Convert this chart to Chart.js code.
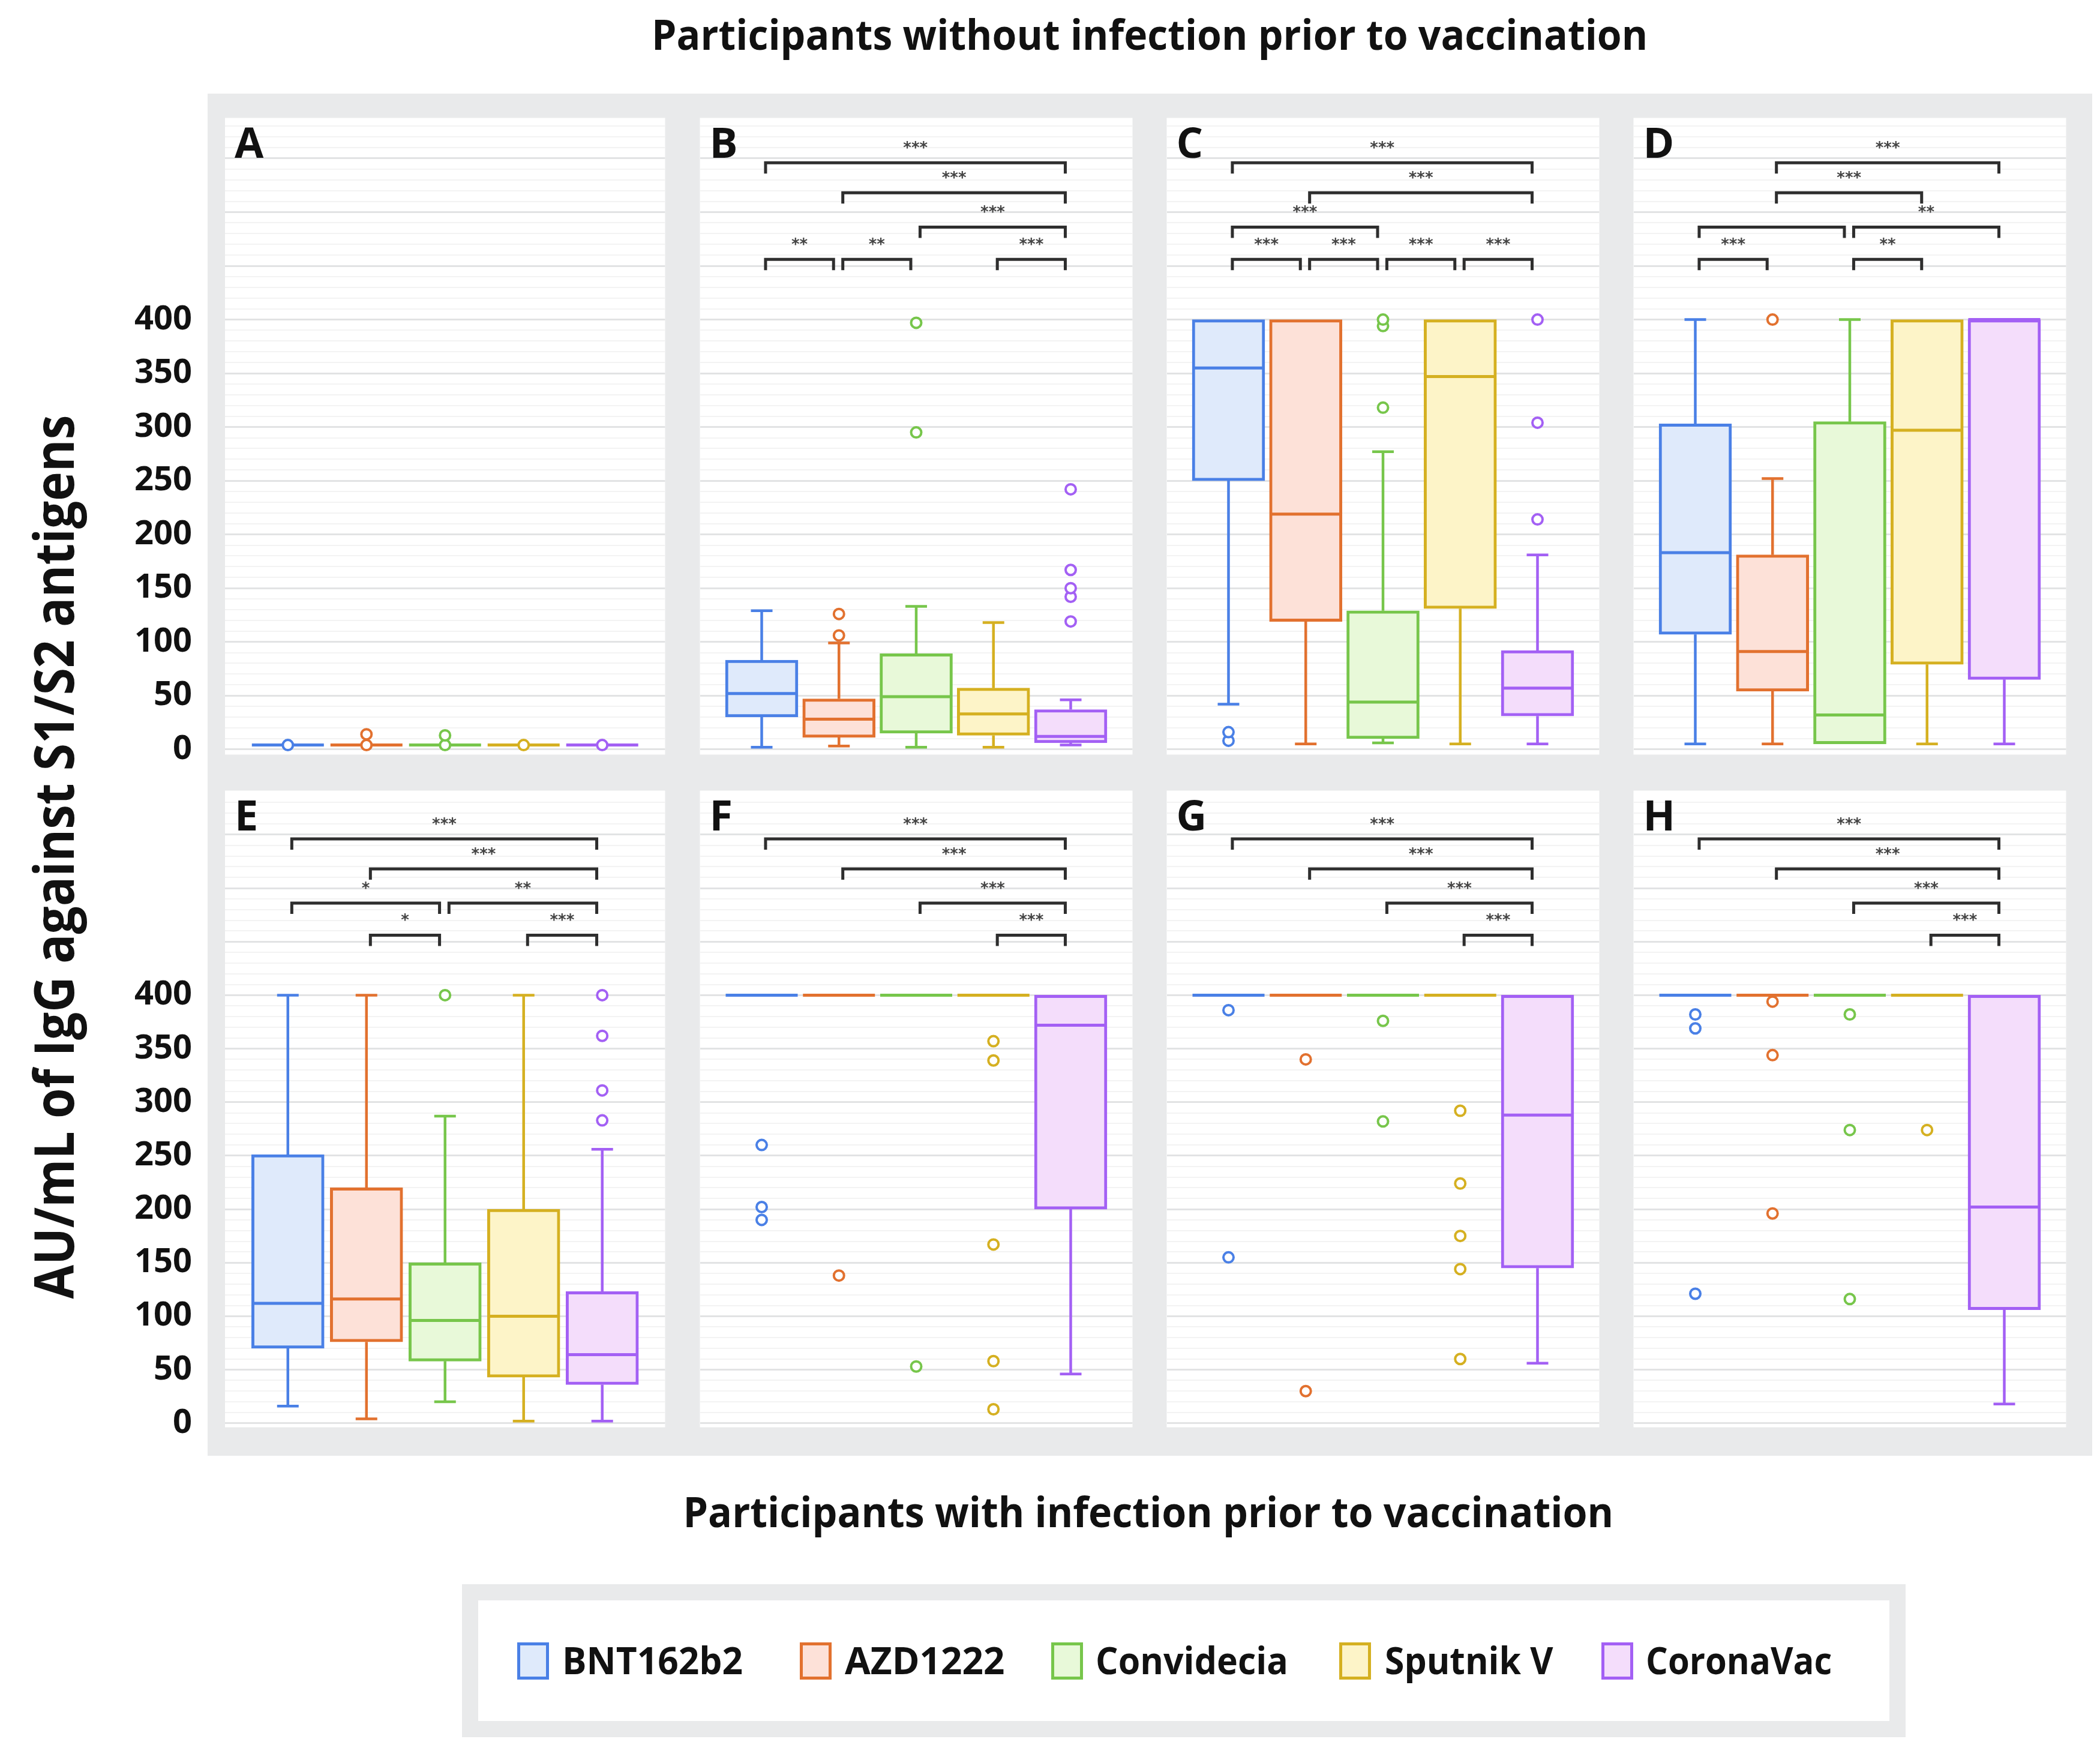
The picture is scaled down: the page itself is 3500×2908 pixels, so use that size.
<!doctype html>
<html lang="en">
<head>
<meta charset="utf-8">
<title>IgG against S1/S2 antigens by vaccine</title>
<script src="https://cdn.jsdelivr.net/npm/chart.js@4.2.1/dist/chart.umd.min.js"></script>
<style>
    html, body { margin: 0; padding: 0; background: #fff; }
    body { width: 3500px; height: 2908px; position: relative; overflow: hidden; font-family: 'Open Sans', sans-serif; }
    .frame { position: absolute; background: #e9eaeb; }
    .inner { position: absolute; background: #fff; }
    canvas { position: absolute; }
    .txt { position: absolute; left: 0; top: 0; transform-origin: 0 0; line-height: 1; white-space: nowrap; font-weight: 700; color: #111; }
    .swatch { position: absolute; box-sizing: border-box; border: 5px solid; }
</style>
</head>
<body>
<div class="frame" style="left:346px;top:156px;width:3141px;height:2270px"></div>
<div class="frame" style="left:770px;top:2640px;width:2406px;height:255px"></div>
<div class="inner" style="left:797px;top:2667px;width:2352px;height:201px"></div>
<script>
    const vaccines = ['BNT162b2', 'AZD1222', 'Convidecia', 'Sputnik V', 'CoronaVac']
    const strokes = ['#4a80e6', '#e2712f', '#77c64b', '#d5b021', '#a360f4']
    const fills = ['#dfeafb', '#fde1d8', '#e8f9d9', '#fdf4c8', '#f4ddfb']

    // box stats per vaccine: [low whisker, q1, median, q3, high whisker]
    const boxA = [[4, 4, 4, 4, 4], [4, 4, 4, 4, 4], [4, 4, 4, 4, 4], [4, 4, 4, 4, 4], [4, 4, 4, 4, 4]]
    const boxB = [[2, 30, 52, 83, 129], [3, 11, 28, 47, 99], [2, 15, 49, 89, 133], [2, 13, 33, 57, 118], [4, 6, 12, 37, 46]]
    const boxC = [[42, 250, 355, 400, 400], [5, 119, 219, 400, 400], [6, 10, 44, 129, 277], [5, 131, 347, 400, 400], [5, 31, 57, 92, 181]]
    const boxD = [[5, 107, 183, 303, 400], [5, 54, 91, 181, 252], [5, 5, 32, 305, 400], [5, 79, 297, 400, 400], [5, 65, 400, 400, 400]]
    const boxE = [[16, 70, 112, 251, 400], [4, 76, 116, 220, 400], [20, 58, 96, 150, 287], [2, 43, 100, 200, 400], [2, 36, 64, 123, 256]]
    const boxF = [[400, 400, 400, 400, 400], [400, 400, 400, 400, 400], [400, 400, 400, 400, 400], [400, 400, 400, 400, 400], [46, 200, 372, 400, 400]]
    const boxG = [[400, 400, 400, 400, 400], [400, 400, 400, 400, 400], [400, 400, 400, 400, 400], [400, 400, 400, 400, 400], [56, 145, 288, 400, 400]]
    const boxH = [[400, 400, 400, 400, 400], [400, 400, 400, 400, 400], [400, 400, 400, 400, 400], [400, 400, 400, 400, 400], [18, 106, 202, 400, 400]]

    // outlying points per vaccine
    const outA = [[4], [4, 14], [4, 13], [4], [4]]
    const outB = [[], [106, 126], [295, 397], [], [119, 142, 150, 167, 242]]
    const outC = [[8, 16], [], [318, 394, 400], [], [214, 304, 400]]
    const outD = [[], [400], [], [], []]
    const outE = [[], [], [400], [], [283, 311, 362, 400]]
    const outF = [[190, 202, 260], [138], [53], [13, 58, 167, 339, 357], []]
    const outG = [[155, 386], [30, 340], [282, 376], [60, 144, 175, 224, 292], []]
    const outH = [[121, 369, 382], [196, 344, 394], [116, 274, 382], [274], []]

    // significance brackets: [from, to, row (0 = highest), label]
    const sigA = []
    const sigB = [[0, 4, 0, '***'], [1, 4, 1, '***'], [2, 4, 2, '***'], [0, 1, 3, '**'], [1, 2, 3, '**'], [3, 4, 3, '***']]
    const sigC = [[0, 4, 0, '***'], [1, 4, 1, '***'], [0, 2, 2, '***'], [0, 1, 3, '***'], [1, 2, 3, '***'], [2, 3, 3, '***'], [3, 4, 3, '***']]
    const sigD = [[1, 4, 0, '***'], [1, 3, 1, '***'], [0, 2, 2, ''], [2, 4, 2, '**'], [0, 1, 3, '***'], [2, 3, 3, '**']]
    const sigE = [[0, 4, 0, '***'], [1, 4, 1, '***'], [0, 2, 2, '*'], [2, 4, 2, '**'], [1, 2, 3, '*'], [3, 4, 3, '***']]
    const sigF = [[0, 4, 0, '***'], [1, 4, 1, '***'], [2, 4, 2, '***'], [3, 4, 3, '***']]
    const sigG = [[0, 4, 0, '***'], [1, 4, 1, '***'], [2, 4, 2, '***'], [3, 4, 3, '***']]
    const sigH = [[0, 4, 0, '***'], [1, 4, 1, '***'], [2, 4, 2, '***'], [3, 4, 3, '***']]
    const sigRows = [546, 518, 486, 456]

    const yLabels = [0, 50, 100, 150, 200, 250, 300, 350, 400]

    const panels = [
        {letter: 'A', box: boxA, out: outA, sig: sigA},
        {letter: 'B', box: boxB, out: outB, sig: sigB},
        {letter: 'C', box: boxC, out: outC, sig: sigC},
        {letter: 'D', box: boxD, out: outD, sig: sigD},
        {letter: 'E', box: boxE, out: outE, sig: sigE},
        {letter: 'F', box: boxF, out: outF, sig: sigF},
        {letter: 'G', box: boxG, out: outG, sig: sigG},
        {letter: 'H', box: boxH, out: outH, sig: sigH},
    ]

    // layout
    const colX = [375, 1154, 1932, 2710]
    const panelW = 746
    const rowY = [184, 1305]
    const panelH = 1086
    const rowMin = [-4.9, -3.8]
    const rowMax = [587.7, 591.2]
    const axisW = 200

    const gridValues = []
    for (let v = 0; v <= 580; v += 10) gridValues.push(v)

    function boxPlugin(panel) {
        return {
            id: 'boxes',
            beforeDraw(chart) {
                const {ctx, chartArea: a} = chart
                ctx.save()
                ctx.fillStyle = '#fff'
                ctx.fillRect(a.left, a.top, a.right - a.left, a.bottom - a.top)
                ctx.restore()
            },
            afterDatasetDraw(chart, args) {
                if (args.index !== 0) return
                const ctx = chart.ctx
                const xs = chart.scales.x, ys = chart.scales.y
                ctx.save()
                panel.box.forEach((s, i) => {
                    const [lo, q1, med, q3, hi] = s
                    const x = xs.getPixelForValue(i)
                    ctx.strokeStyle = strokes[i]
                    ctx.lineWidth = 4.5
                    ctx.beginPath()
                    if (hi > q3) {
                        ctx.moveTo(x, ys.getPixelForValue(q3))
                        ctx.lineTo(x, ys.getPixelForValue(hi))
                        ctx.moveTo(x - 18, ys.getPixelForValue(hi))
                        ctx.lineTo(x + 18, ys.getPixelForValue(hi))
                    }
                    if (lo < q1) {
                        ctx.moveTo(x, ys.getPixelForValue(q1))
                        ctx.lineTo(x, ys.getPixelForValue(lo))
                        ctx.moveTo(x - 18, ys.getPixelForValue(lo))
                        ctx.lineTo(x + 18, ys.getPixelForValue(lo))
                    }
                    ctx.stroke()
                    ctx.lineWidth = 5
                    ctx.beginPath()
                    ctx.moveTo(x - 60, ys.getPixelForValue(med))
                    ctx.lineTo(x + 60, ys.getPixelForValue(med))
                    ctx.stroke()
                })
                ctx.restore()
            },
            afterDraw(chart) {
                const {ctx, chartArea: a} = chart
                const xs = chart.scales.x, ys = chart.scales.y
                ctx.save()
                ctx.strokeStyle = '#2e2e2e'
                ctx.lineWidth = 5
                ctx.fillStyle = '#444'
                ctx.font = 'bold 26px "DejaVu Sans"'
                ctx.textAlign = 'center'
                ctx.textBaseline = 'middle'
                panel.sig.forEach(([from, to, row, label]) => {
                    const x1 = xs.getPixelForValue(from + 0.05)
                    const x2 = xs.getPixelForValue(to - 0.07)
                    const y = ys.getPixelForValue(sigRows[row])
                    ctx.beginPath()
                    ctx.moveTo(x1, y + 18)
                    ctx.lineTo(x1, y)
                    ctx.lineTo(x2, y)
                    ctx.lineTo(x2, y + 18)
                    ctx.stroke()
                    if (label) ctx.fillText(label, (x1 + x2) / 2, ys.getPixelForValue(sigRows[row] + 13))
                })
                ctx.fillStyle = '#111'
                ctx.font = 'bold 70px "Open Sans"'
                ctx.textAlign = 'left'
                ctx.textBaseline = 'alphabetic'
                ctx.fillText(panel.letter, a.left + 16, a.top + 66)
                ctx.restore()
            }
        }
    }

    panels.forEach((panel, n) => {
        const col = n % 4, row = Math.floor(n / 4)
        const left = col === 0
        const extra = left ? axisW : 0
        const canvas = document.createElement('canvas')
        canvas.width = panelW + extra
        canvas.height = panelH
        canvas.style.left = (colX[col] - extra) + 'px'
        canvas.style.top = rowY[row] + 'px'
        document.body.appendChild(canvas)

        const points = [], pointColors = []
        panel.out.forEach((vals, i) => vals.forEach(v => {
            points.push({x: i, y: v})
            pointColors.push(strokes[i])
        }))

        new Chart(canvas, {
            type: 'bar',
            data: {
                datasets: [{
                    type: 'bar',
                    data: panel.box.map((s, i) => ({x: i, y: [s[1], s[3]]})),
                    backgroundColor: fills,
                    borderColor: strokes,
                    borderWidth: 5,
                    borderSkipped: false,
                    barThickness: 121,
                    order: 1
                }, {
                    type: 'scatter',
                    data: points,
                    pointRadius: 8.5,
                    pointBorderWidth: 4,
                    pointBackgroundColor: '#fff',
                    pointBorderColor: pointColors,
                    order: 0
                }]
            },
            options: {
                responsive: false,
                animation: false,
                events: [],
                layout: {padding: 0},
                plugins: {legend: {display: false}, tooltip: {enabled: false}},
                scales: {
                    x: {type: 'linear', min: -0.8, max: 4.8, offset: false, display: false},
                    y: {
                        type: 'linear',
                        min: rowMin[row],
                        max: rowMax[row],
                        afterBuildTicks: s => { s.ticks = gridValues.map(v => ({value: v})) },
                        afterFit: s => {
                            s.width = extra
                            s.paddingTop = 0
                            s.paddingBottom = 0
                        },
                        border: {display: false},
                        grid: {
                            drawTicks: false,
                            color: c => c.tick && c.tick.value % 50 === 0 ? '#e2e3e4' : '#f3f3f3',
                            lineWidth: c => c.tick && c.tick.value % 50 === 0 ? 3 : 2
                        },
                        ticks: {
                            display: left,
                            autoSkip: false,
                            padding: 55,
                            color: '#111',
                            font: {family: 'Open Sans', weight: 'bold', size: 56},
                            callback: v => yLabels.includes(v) ? String(v) : ''
                        }
                    }
                }
            },
            plugins: [boxPlugin(panel)]
        })
    })

    // text, fitted to the widths measured on the reference
    function placeText(text, cx, cy, width, size, rotate) {
        const el = document.createElement('div')
        el.className = 'txt'
        el.textContent = text
        el.style.fontSize = size + 'px'
        document.body.appendChild(el)
        const w = el.offsetWidth, h = el.offsetHeight
        const k = width / w
        el.style.transform = `translate(${cx}px, ${cy}px) rotate(${rotate || 0}deg) scaleX(${k}) translate(${-w / 2}px, ${-h / 2}px)`
    }

    placeText('Participants without infection prior to vaccination', 1916, 56, 1660, 70)
    placeText('Participants with infection prior to vaccination', 1914, 2518, 1551, 70)
    placeText('AU/mL of IgG against S1/S2 antigens', 88, 1428, 1473, 92, -90)

    const legendBoxX = [862, 1333, 1752, 2232, 2669]
    const legendTextX = [937, 1408, 1826, 2308, 2743]
    const legendTextW = [301, 266, 321, 281, 310]
    vaccines.forEach((name, i) => {
        const sw = document.createElement('div')
        sw.className = 'swatch'
        sw.style.left = legendBoxX[i] + 'px'
        sw.style.top = '2737px'
        sw.style.width = '53px'
        sw.style.height = '62px'
        sw.style.borderColor = strokes[i]
        sw.style.background = fills[i]
        document.body.appendChild(sw)
        placeText(name, legendTextX[i] + legendTextW[i] / 2, 2766, legendTextW[i], 62)
    })
</script>
</body>
</html>
